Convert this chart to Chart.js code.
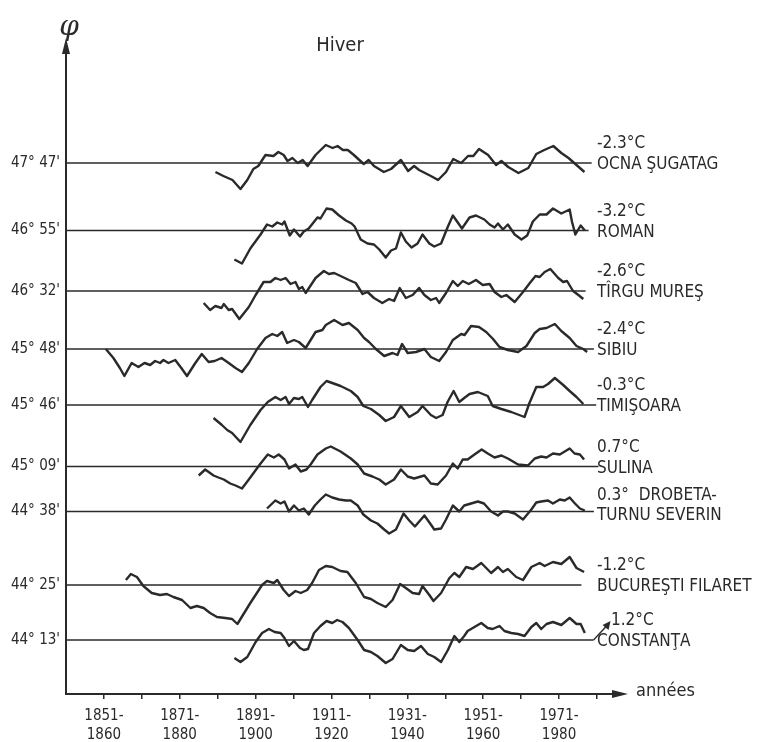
<!DOCTYPE html>
<html>
<head>
<meta charset="utf-8">
<script src="https://cdn.jsdelivr.net/npm/chart.js@4.4.1/dist/chart.umd.min.js"></script>
<style>
  html, body { margin: 0; padding: 0; background: #fff; }
</style>
</head>
<body>
<canvas id="chart" width="762" height="742"></canvas>
<script>
// stations, from north to south, with their latitude and winter mean
const stations = ['OCNA ŞUGATAG', 'ROMAN', 'TÎRGU MUREŞ', 'SIBIU', 'TIMIŞOARA', 'SULINA', 'DROBETA-TURNU SEVERIN', 'BUCUREŞTI FILARET', 'CONSTANŢA'];
const latitudes = ["47° 47'", "46° 55'", "46° 32'", "45° 48'", "45° 46'", "45° 09'", "44° 38'", "44° 25'", "44° 13'"];
const meanTemps = [-2.3, -3.2, -2.6, -2.4, -0.3, 0.7, 0.3, -1.2, 1.2];
// baseline level of each station on the y scale, and where its line stops
const levels = [53.1, 46.35, 40.3, 34.5, 28.9, 22.75, 18.25, 10.9, 5.4];
const lineEnds = [1983.6, 1982.8, 1982.0, 1984.2, 1984.8, 1985.4, 1984.2, 1980.9, 1984.1];

// x axis
const tickYears = [1855, 1865, 1875, 1885, 1895, 1905, 1915, 1925, 1935, 1945, 1955, 1965, 1975, 1985];
const periodLabels = {1855: ['1851-', '1860'], 1875: ['1871-', '1880'], 1895: ['1891-', '1900'], 1915: ['1911-', '1920'],
                      1935: ['1931-', '1940'], 1955: ['1951-', '1960'], 1975: ['1971-', '1980']};

// running means, [year, deviation]
const ocnaSugatag = [[1884.4,-0.9],[1886.5,-1.3],[1888.9,-1.7],[1891.0,-2.6],[1892.8,-1.7],[1894.4,-0.6],[1895.7,-0.3],[1897.6,0.8],[1899.7,0.7],[1901.0,1.1],[1902.4,0.8],[1903.4,0.2],[1904.7,0.5],[1906.1,0],[1907.4,0.3],[1908.7,-0.3],[1910.8,0.8],[1913.5,1.8],[1915.3,1.5],[1916.6,1.7],[1918.0,1.3],[1919.3,1.3],[1920.9,0.8],[1923.5,-0.1],[1924.8,0.3],[1926.2,-0.3],[1928.8,-0.9],[1930.7,-0.6],[1933.3,0.3],[1935.2,-0.8],[1936.8,-0.3],[1938.1,-0.7],[1941.2,-1.3],[1943.1,-1.7],[1945.2,-0.9],[1947.1,0.4],[1949.2,0],[1951.0,0.7],[1952.4,0.7],[1953.9,1.4],[1956.3,0.8],[1958.4,-0.2],[1959.8,0.2],[1961.6,-0.4],[1964.3,-1.0],[1966.9,-0.5],[1969.0,0.9],[1971.1,1.3],[1973.5,1.7],[1975.6,1.0],[1977.5,0.5],[1979.6,-0.2],[1981.7,-0.9]];
const roman = [[1889.4,-2.9],[1891.4,-3.3],[1893.6,-1.8],[1896.3,-0.4],[1898.0,0.6],[1899.4,0.4],[1900.7,0.8],[1902.0,0.6],[1902.6,0.9],[1904.0,-0.5],[1905.1,0.1],[1906.7,-0.6],[1907.7,-0.1],[1909.0,0.2],[1911.3,1.3],[1912.1,1.2],[1913.7,2.2],[1915.2,2.1],[1917.0,1.5],[1918.8,1.0],[1920.3,0.7],[1921.1,0.4],[1922.7,-0.9],[1924.5,-1.3],[1926.2,-1.4],[1927.6,-1.9],[1929.3,-2.7],[1930.7,-2.0],[1932.0,-1.8],[1933.3,-0.2],[1934.6,-1.1],[1936.1,-1.7],[1937.7,-1.3],[1939.0,-0.4],[1940.8,-1.3],[1942.1,-1.6],[1943.9,-1.3],[1945.7,0.4],[1947.0,1.5],[1948.3,0.8],[1949.4,0.2],[1951.4,1.3],[1953.1,1.5],[1955.3,1.1],[1956.7,0.6],[1958.0,0.3],[1958.9,0.7],[1960.2,0.1],[1961.5,0.6],[1963.3,-0.4],[1965.1,-0.9],[1966.6,-0.5],[1968.1,0.9],[1969.9,1.6],[1971.7,1.6],[1973.4,2.2],[1975.6,1.7],[1977.8,2.1],[1978.4,0.9],[1979.3,-0.4],[1980.7,0.5],[1981.8,0]];
const tirguMures = [[1881.3,-1.2],[1883.0,-1.9],[1884.4,-1.5],[1886.0,-1.7],[1886.6,-1.3],[1887.9,-1.9],[1888.8,-1.8],[1890.7,-2.8],[1893.2,-1.6],[1895.0,-0.4],[1897.1,0.9],[1898.9,0.9],[1900.2,1.3],[1901.6,1.1],[1902.9,1.3],[1904.2,0.7],[1905.5,0.9],[1906.4,0.2],[1907.3,0.4],[1908.2,-0.2],[1910.8,1.3],[1913.0,2.0],[1914.3,1.7],[1915.7,1.8],[1917.4,1.5],[1919.6,1.1],[1921.4,0.8],[1923.2,-0.3],[1924.5,-0.1],[1926.2,-0.7],[1928.4,-1.2],[1930.2,-0.8],[1931.5,-1.0],[1933.0,0.3],[1934.6,-0.7],[1936.4,-0.4],[1938.1,0.3],[1939.5,-0.4],[1941.2,-0.9],[1942.6,-0.7],[1943.4,-1.2],[1945.2,-0.2],[1947.0,1.0],[1948.3,0.5],[1949.6,1.0],[1951.2,0.7],[1953.1,1.1],[1954.9,0.6],[1956.7,0.7],[1958.0,-0.1],[1959.8,-0.6],[1961.1,-0.4],[1963.3,-1.1],[1965.5,-0.1],[1967.3,0.8],[1968.8,1.5],[1969.9,1.4],[1971.2,1.9],[1972.7,2.2],[1974.8,1.3],[1976.1,0.9],[1977.1,1.0],[1978.7,0],[1980.1,-0.4],[1981.4,-0.8]];
const sibiu = [[1855.5,0],[1857.5,-0.9],[1859.2,-1.9],[1860.4,-2.7],[1862.3,-1.4],[1864.1,-1.8],[1865.7,-1.4],[1867.2,-1.6],[1868.5,-1.2],[1869.8,-1.4],[1870.7,-1.1],[1872.0,-1.4],[1873.8,-1.1],[1875.4,-1.9],[1876.9,-2.7],[1879.1,-1.4],[1880.8,-0.5],[1882.6,-1.3],[1884.2,-1.2],[1886.0,-0.9],[1887.9,-1.4],[1889.7,-1.9],[1891.4,-2.3],[1893.2,-1.4],[1895.4,0],[1897.6,1.1],[1899.4,1.5],[1900.7,1.3],[1902.0,1.7],[1903.3,0.6],[1905.1,0.9],[1906.4,0.7],[1908.2,0.1],[1910.8,1.7],[1912.6,1.9],[1913.5,2.4],[1915.7,2.9],[1917.9,2.4],[1919.6,2.6],[1921.9,1.9],[1923.6,1.1],[1924.9,0.7],[1926.7,0],[1928.9,-0.7],[1931.1,-0.4],[1932.4,-0.6],[1933.6,0.5],[1935.1,-0.4],[1937.3,-0.3],[1939.5,0],[1941.2,-0.8],[1943.4,-1.2],[1945.2,-0.3],[1947.0,0.9],[1949.2,1.5],[1950.1,1.4],[1951.8,2.3],[1953.9,2.2],[1955.8,1.7],[1957.6,1.0],[1959.3,0.2],[1961.5,-0.1],[1964.2,-0.3],[1966.4,0.3],[1968.6,1.6],[1969.9,2.0],[1971.7,2.1],[1973.9,2.5],[1975.6,1.8],[1977.8,1.1],[1979.6,0.3],[1981.4,0],[1982.4,-0.3]];
const timisoara = [[1883.9,-1.3],[1886.1,-2.0],[1887.5,-2.5],[1888.8,-2.8],[1891.0,-3.7],[1893.6,-2.0],[1896.3,-0.5],[1898.2,0.3],[1900.2,0.8],[1901.6,0.5],[1902.9,0.8],[1903.8,0.1],[1905.1,0.7],[1906.4,0.6],[1907.3,0.8],[1908.8,-0.2],[1909.9,0.5],[1912.1,1.8],[1913.7,2.4],[1915.2,2.2],[1917.4,1.9],[1920.1,1.4],[1921.9,0.8],[1923.4,-0.1],[1925.4,-0.4],[1927.6,-1.0],[1929.3,-1.6],[1931.5,-1.2],[1933.3,-0.1],[1935.5,-1.2],[1937.7,-0.7],[1939.0,-0.1],[1941.2,-1.0],[1942.6,-1.3],[1944.3,-1.0],[1945.6,0.3],[1947.2,1.4],[1948.7,0.3],[1950.0,0.7],[1951.4,1.1],[1953.6,1.3],[1956.2,0.9],[1957.5,-0.1],[1959.8,-0.4],[1962.4,-0.7],[1965.9,-1.2],[1967.2,0.2],[1969.0,1.8],[1970.8,1.8],[1972.1,2.1],[1973.9,2.7],[1976.1,2.0],[1977.8,1.4],[1979.6,0.8],[1981.4,0.1]];
const sulina = [[1880.0,-0.9],[1881.7,-0.3],[1883.9,-0.9],[1885.2,-1.1],[1886.6,-1.3],[1888.3,-1.7],[1889.7,-1.9],[1891.4,-2.2],[1893.2,-1.3],[1896.3,0.3],[1898.2,1.2],[1899.8,0.9],[1901.1,1.2],[1902.6,0.7],[1903.8,-0.2],[1905.5,0.2],[1906.9,-0.5],[1908.4,-0.3],[1909.5,0.2],[1911.3,1.2],[1913.5,1.8],[1914.8,2.0],[1917.4,1.5],[1920.1,0.8],[1921.9,0.2],[1923.6,-0.7],[1925.8,-1.0],[1927.6,-1.3],[1929.3,-1.8],[1931.5,-1.3],[1933.3,-0.3],[1935.1,-1.0],[1936.8,-1.2],[1939.5,-0.9],[1941.2,-1.7],[1943.0,-1.8],[1945.2,-0.9],[1947.0,0.3],[1948.3,-0.2],[1949.6,0.7],[1950.9,0.7],[1952.7,1.2],[1954.6,1.7],[1956.2,1.3],[1958.0,0.9],[1959.8,1.1],[1961.5,0.8],[1964.2,0.2],[1966.8,0.1],[1968.6,0.8],[1970.3,1.0],[1971.7,0.9],[1973.4,1.3],[1975.2,1.2],[1977.8,1.8],[1979.1,1.3],[1980.5,1.2],[1981.6,0.7]];
const drobeta = [[1898.0,0.3],[1900.2,1.1],[1901.6,0.8],[1902.6,1.0],[1903.8,0],[1905.1,0.6],[1906.4,0.1],[1907.7,0.3],[1909.0,-0.3],[1910.6,0.6],[1912.1,1.2],[1913.5,1.7],[1915.2,1.4],[1917.0,1.2],[1918.8,1.1],[1920.1,1.1],[1921.9,0.6],[1923.4,-0.3],[1925.4,-0.9],[1927.1,-1.2],[1928.9,-1.8],[1930.2,-2.2],[1932.0,-1.8],[1934.0,-0.2],[1935.5,-0.9],[1937.0,-1.5],[1939.5,-0.4],[1941.2,-1.3],[1942.1,-1.8],[1943.9,-1.7],[1945.2,-0.8],[1947.0,0.6],[1948.7,0],[1950.0,0.6],[1951.8,0.8],[1953.6,1.0],[1955.2,0.8],[1957.1,0],[1958.9,-0.4],[1960.2,0],[1961.5,0],[1963.3,-0.2],[1965.5,-0.8],[1967.7,0.2],[1969.0,0.9],[1970.3,1.0],[1972.1,1.1],[1973.4,0.8],[1975.2,1.2],[1976.5,1.1],[1977.8,1.4],[1979.2,0.8],[1980.5,0.3],[1981.8,0.1]];
const bucuresti = [[1860.8,0.5],[1862.1,1.1],[1863.7,0.8],[1865.4,-0.1],[1867.6,-0.8],[1869.8,-1.0],[1871.6,-0.9],[1873.3,-1.2],[1875.6,-1.5],[1877.8,-2.3],[1879.5,-2.1],[1881.3,-2.3],[1883.0,-2.8],[1884.8,-3.2],[1887.0,-3.3],[1888.8,-3.4],[1890.2,-3.9],[1893.6,-1.8],[1896.7,0],[1898.0,0.4],[1899.8,0.2],[1900.7,0.5],[1902.4,-0.5],[1903.8,-1.1],[1905.5,-0.6],[1906.9,-0.8],[1908.6,-0.5],[1909.9,0.2],[1911.7,1.5],[1913.5,1.9],[1915.2,1.8],[1917.4,1.4],[1919.2,1.3],[1921.4,0.2],[1923.6,-1.2],[1925.4,-1.4],[1927.1,-1.8],[1929.3,-2.2],[1931.1,-1.5],[1933.1,0.1],[1934.6,-0.3],[1936.4,-0.8],[1938.1,-0.9],[1939.0,-0.1],[1940.8,-1.0],[1941.9,-1.6],[1943.9,-0.8],[1946.1,0.7],[1947.4,1.2],[1948.7,0.8],[1950.5,1.8],[1952.3,1.6],[1954.5,2.2],[1957.1,1.2],[1958.9,1.8],[1960.2,1.3],[1961.5,1.6],[1963.7,0.8],[1965.5,0.5],[1967.7,1.8],[1969.9,2.2],[1971.2,1.9],[1973.4,2.3],[1975.6,2.1],[1977.8,2.8],[1979.6,1.7],[1981.6,1.3]];
const constanta = [[1889.4,-1.8],[1891.0,-2.2],[1892.8,-1.7],[1895.0,-0.2],[1896.7,0.7],[1898.5,1.1],[1900.0,0.8],[1901.6,0.7],[1902.6,0.2],[1903.8,-0.6],[1905.1,-0.1],[1906.7,-0.8],[1907.7,-1.0],[1908.8,-0.9],[1910.4,0.7],[1912.1,1.4],[1913.7,1.9],[1915.2,1.7],[1916.5,2.0],[1917.9,1.8],[1919.6,1.2],[1921.9,0],[1923.6,-1.0],[1925.4,-1.2],[1927.1,-1.6],[1929.3,-2.3],[1931.1,-1.9],[1933.3,-0.5],[1935.1,-1.0],[1936.8,-1.1],[1938.6,-0.6],[1940.4,-1.4],[1942.1,-1.7],[1943.9,-2.2],[1945.7,-1.0],[1947.4,0.4],[1948.7,-0.2],[1950.0,0.4],[1950.9,0.9],[1952.7,1.3],[1954.5,1.7],[1956.2,1.2],[1957.5,1.1],[1959.3,1.4],[1960.6,0.9],[1962.4,0.7],[1964.2,0.6],[1965.9,0.4],[1967.7,1.3],[1969.0,1.7],[1970.3,1.1],[1971.7,1.6],[1973.4,1.8],[1975.6,1.5],[1977.8,2.2],[1979.6,1.6],[1980.7,1.6],[1981.8,0.7]];

const series = [ocnaSugatag, roman, tirguMures, sibiu, timisoara, sulina, drobeta, bucuresti, constanta];

const ink = '#2a2a2a';
const FONT = '"DejaVu Sans Condensed", "Liberation Sans Narrow", "DejaVu Sans", sans-serif';
const X_MIN = 1845, X_MAX = 1991.6;

const datasets = [];
series.forEach((s, i) => {
  // horizontal reference line of the station
  datasets.push({
    data: [{x: X_MIN, y: levels[i]}, {x: lineEnds[i], y: levels[i]}],
    borderColor: ink, borderWidth: 1.7, pointRadius: 0
  });
  datasets.push({
    data: s.map(p => ({x: p[0], y: levels[i] + p[1]})),
    borderColor: ink, borderWidth: 2.4, pointRadius: 0, tension: 0,
    borderJoinStyle: 'round'
  });
});

function fmtTemp(t) {
  return (t < 0 ? '-' : '') + Math.abs(t).toFixed(1) + '°C';
}

const decorations = {
  id: 'decorations',
  afterDraw(chart) {
    const ctx = chart.ctx;
    const {left, right, top, bottom} = chart.chartArea;
    const y = chart.scales.y;
    const x = chart.scales.x;
    ctx.save();
    ctx.fillStyle = ink;
    ctx.strokeStyle = ink;

    // arrows on the axes
    ctx.beginPath();
    ctx.moveTo(left, top - 6); ctx.lineTo(left - 4, top + 10); ctx.lineTo(left + 4, top + 10);
    ctx.closePath(); ctx.fill();
    ctx.beginPath();
    ctx.moveTo(right + 6, bottom); ctx.lineTo(right - 10, bottom - 4); ctx.lineTo(right - 10, bottom + 4);
    ctx.closePath(); ctx.fill();

    // axis names and title
    ctx.font = 'italic 28px "DejaVu Serif", serif';
    ctx.textAlign = 'center'; ctx.textBaseline = 'middle';
    ctx.fillText('φ', left + 3, 28);
    ctx.font = '20px ' + FONT;
    ctx.fillText('Hiver', 340, 46);
    ctx.font = '18px ' + FONT;
    ctx.textAlign = 'left';
    ctx.fillText('années', 636, bottom - 3);

    // station labels
    const lx = 597;
    ctx.font = '17px ' + FONT;
    levels.forEach((lv, i) => {
      const py = y.getPixelForValue(lv);
      const tx = i === 8 ? lx + 14 : lx;
      if (i === 6) {
        ctx.fillText(fmtTemp(meanTemps[i]).replace('C', '') + '  DROBETA-', lx, py - 16);
        ctx.fillText('TURNU SEVERIN', lx, py + 4);
      } else {
        ctx.fillText(fmtTemp(meanTemps[i]), tx, py - 19);
        ctx.fillText(stations[i], lx, py + 2);
      }
    });

    // Constanta pointer
    const cy = y.getPixelForValue(levels[8]);
    const cx = x.getPixelForValue(lineEnds[8]);
    ctx.lineWidth = 1.4;
    ctx.beginPath(); ctx.moveTo(cx, cy); ctx.lineTo(cx + 13, cy - 14); ctx.stroke();
    ctx.beginPath();
    ctx.moveTo(cx + 17, cy - 19); ctx.lineTo(cx + 9, cy - 15); ctx.lineTo(cx + 15, cy - 10);
    ctx.closePath(); ctx.fill();
    ctx.restore();
  }
};

new Chart(document.getElementById('chart'), {
  type: 'line',
  data: { datasets },
  options: {
    responsive: false,
    animation: false,
    layout: { padding: { top: 44, right: 140, left: 0, bottom: 0 } },
    plugins: { legend: { display: false }, tooltip: { enabled: false } },
    scales: {
      x: {
        type: 'linear', min: X_MIN, max: X_MAX,
        border: { display: true, color: ink, width: 2 },
        grid: { display: true, drawOnChartArea: false, drawTicks: true, tickLength: 5, color: ink, lineWidth: 1.5 },
        afterBuildTicks: s => { s.ticks = tickYears.map(v => ({ value: v })); },
        ticks: {
          autoSkip: false, maxRotation: 0, color: ink, padding: 8,
          font: { family: FONT, size: 15, lineHeight: 1.25 },
          callback: v => periodLabels[v] || ''
        },
        afterFit: s => { s.height = 48; }
      },
      y: {
        type: 'linear', min: 0, max: 65,
        border: { display: true, color: ink, width: 2 },
        grid: { display: false, drawTicks: false },
        afterBuildTicks: s => { s.ticks = levels.map(v => ({ value: v })); },
        ticks: {
          autoSkip: false, color: ink, padding: 6,
          font: { family: FONT, size: 15 },
          callback: (v, i) => latitudes[i]
        },
        afterFit: s => { s.width = 66; }
      }
    }
  },
  plugins: [decorations]
});
</script>
</body>
</html>
